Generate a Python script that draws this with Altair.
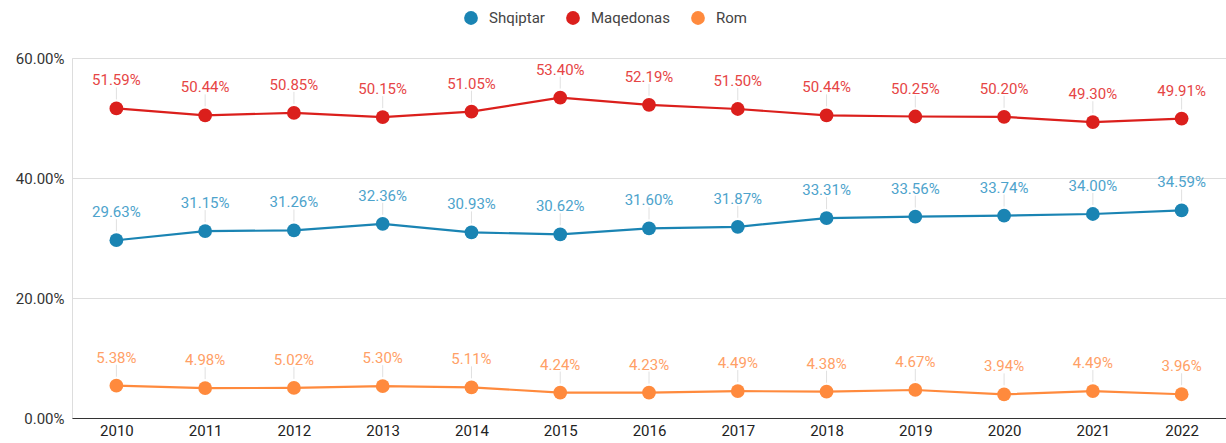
import altair as alt
import pandas as pd

years = ["2010", "2011", "2012", "2013", "2014", "2015", "2016", "2017", "2018", "2019", "2020", "2021", "2022"]
series = ["Shqiptar", "Maqedonas", "Rom"]
shqiptar = [29.63, 31.15, 31.26, 32.36, 30.93, 30.62, 31.60, 31.87, 33.31, 33.56, 33.74, 34.00, 34.59]
maqedonas = [51.59, 50.44, 50.85, 50.15, 51.05, 53.40, 52.19, 51.50, 50.44, 50.25, 50.20, 49.30, 49.91]
rom = [5.38, 4.98, 5.02, 5.30, 5.11, 4.24, 4.23, 4.49, 4.38, 4.67, 3.94, 4.49, 3.96]

line_colors = ["#1a84b3", "#db1f1c", "#ff8a3d"]
label_colors = ["#4da3cc", "#e64545", "#ffa066"]

rows = []
for name, vals in zip(series, [shqiptar, maqedonas, rom]):
    for y, v in zip(years, vals):
        rows.append({"year": y, "group": name, "value": v})
df = pd.DataFrame(rows)

FONT = "Roboto"
FS = 15

xscale = alt.Scale(type="point", padding=0.5)
x_enc = alt.X("year:O", scale=xscale,
              axis=alt.Axis(title=None, labelAngle=0, labelAlign="center", ticks=False, domain=True,
                            domainColor="#333333", domainWidth=1.2, labelPadding=12,
                            labelFontSize=FS, labelColor="#222222", labelFont=FONT, grid=False))
y_enc = alt.Y("value:Q", scale=alt.Scale(domain=[0, 60], nice=False),
              axis=alt.Axis(title=None, values=[0, 20, 40, 60], labelExpr="format(datum.value, '.2f') + '%'",
                            ticks=False, domain=False, gridColor="#dddddd", gridWidth=1,
                            labelFontSize=FS, labelColor="#333333", labelFont=FONT, labelPadding=8))

line_scale = alt.Scale(domain=series, range=line_colors)

base = alt.Chart(df)

leaders = base.mark_rule(color="#e0e0e0", strokeWidth=1, yOffset=-9, y2Offset=-21).encode(
    x=alt.X("year:O", scale=xscale), y="value:Q", y2="value:Q")
lines = base.mark_line(strokeWidth=2.2).encode(
    x=x_enc, y=y_enc, color=alt.Color("group:N", scale=line_scale, legend=None))
points = base.mark_circle(size=190, opacity=1).encode(
    x=alt.X("year:O", scale=xscale), y="value:Q",
    color=alt.Color("group:N", scale=line_scale,
                    legend=alt.Legend(title=None, orient="none", direction="horizontal",
                                      legendX=391, legendY=-48, symbolType="circle", symbolSize=190,
                                      labelFontSize=FS, labelFont=FONT,
                                      labelColor="#444444", labelOffset=10, columnPadding=20)))
labels = base.transform_calculate(lbl="format(datum.value, '.2f') + '%'").mark_text(
    dy=-28, fontSize=FS, font=FONT, baseline="middle").encode(
    x=alt.X("year:O", scale=xscale), y="value:Q", text="lbl:N",
    color=alt.Color("group:N", scale=alt.Scale(domain=series, range=label_colors), legend=None))

chart = alt.layer(leaders, lines, points, labels).resolve_scale(color="independent").properties(
    width=1154, height=360,
    autosize=alt.AutoSizeParams(type="none"),
    padding={"left": 72, "top": 58, "right": 0, "bottom": 25},
).configure_view(stroke=None).configure(background="white")

chart.save("out.html", embed_options={"renderer": "svg", "actions": False})
